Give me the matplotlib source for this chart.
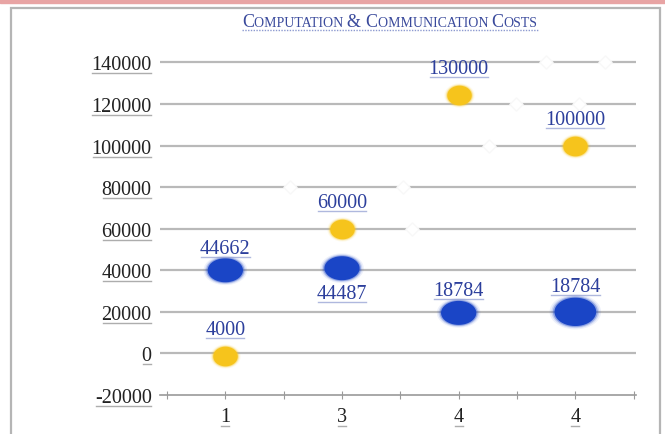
import numpy as np
import matplotlib
matplotlib.use("Agg")
import matplotlib.pyplot as plt
from matplotlib.path import Path
from matplotlib.lines import Line2D
from matplotlib.patches import Rectangle

plt.rcParams['font.family'] = ['Liberation Serif', 'DejaVu Serif']

# data
categories = ["1", "3", "4", "4"]
blue_y = [40000, 41000, 19500, 20000]
blue_labels = ["44662", "44487", "18784", "18784"]
blue_size = [680, 680, 680, 950]
yellow_y = [-1000, 60000, 124500, 100000]
yellow_labels = ["4000", "60000", "130000", "100000"]
ghost_x = [1.05, 2.02, 2.10, 2.76, 2.99, 3.53, 3.25, 3.75]
ghost_y = [80000, 80000, 60000, 100000, 120000, 120000, 140000, 140000]
yticks = list(range(-20000, 140001, 20000))

BLUE = "#1a45c6"
YELLOW = "#f6c41c"
TXT_BLUE = "#2c3f9c"

fig = plt.figure(figsize=(6.65, 4.35), dpi=100)
fig.patch.set_facecolor("white")

# photo frame
fig.patches.append(Rectangle((0, 1 - 4 / 435), 1, 4 / 435, transform=fig.transFigure,
                             color="#e8a4a4", zorder=0))
fig.patches.append(Rectangle((11 / 665, -0.05), 649 / 665, 1.05 - 9 / 435,
                             transform=fig.transFigure, fill=False,
                             edgecolor="#b5b5b5", lw=1.6, zorder=0))

ax = fig.add_axes([160 / 665, 39 / 435, 476 / 665, 343 / 435])
ax.set_facecolor("none")
xpos = np.arange(len(categories)) + 0.5
ax.set_xlim(-0.06, 4.02)
ax.set_ylim(-20000, 145000)

for y in yticks[1:]:
    ax.axhline(y, color="#b9b9b9", lw=1.6, zorder=1)

ax.scatter(ghost_x, ghost_y, s=45, marker="D", color="white", edgecolors="#f8f8f8",
           lw=1, zorder=2)

t = np.linspace(0, 2 * np.pi, 60)
ell = Path(np.column_stack([np.cos(t), 0.68 * np.sin(t)]))
ell_y = Path(np.column_stack([np.cos(t), 0.8 * np.sin(t)]))

# soft blobs
for scale, a in [(1.45, 0.08), (1.25, 0.16), (1.1, 0.35), (0.95, 1.0)]:
    ax.scatter(xpos, blue_y, s=[v * scale for v in blue_size], marker=ell, color=BLUE,
               alpha=a, lw=0, zorder=3)
    ax.scatter(xpos, yellow_y, s=330 * scale, marker=ell_y, color=YELLOW,
               alpha=a, lw=0, zorder=3)

texts = []
blue_off = [16, -18, 16, 18]
for x, y, lab, dy in zip(xpos, blue_y, blue_labels, blue_off):
    texts.append(ax.annotate(lab, (x, y), xytext=(0, dy), textcoords="offset points",
                             ha="center", va="center", fontsize=14.5, color=TXT_BLUE))
for x, y, lab in zip(xpos, yellow_y, yellow_labels):
    texts.append(ax.annotate(lab, (x, y), xytext=(0, 19), textcoords="offset points",
                             ha="center", va="center", fontsize=14.5, color=TXT_BLUE))

ax.set_yticks(yticks)
ax.set_yticklabels([str(v) for v in yticks])
ax.set_xticks(np.arange(0, 4.01, 0.5))
ax.set_xticklabels(["", categories[0], "", categories[1], "", categories[2], "",
                    categories[3], ""])
for s in ["left", "right", "top"]:
    ax.spines[s].set_visible(False)
ax.spines["bottom"].set_color("#9a9a9a")
ax.spines["bottom"].set_linewidth(1.2)
ax.tick_params(axis="y", length=0, pad=6, labelsize=14.5, labelcolor="#222222")
ax.tick_params(axis="x", direction="inout", length=6, color="#9a9a9a", pad=6,
               labelsize=14.5, labelcolor="#222222")

# small caps title
pieces = [("C", 13), ("OMPUTATION ", 10), ("& ", 13), ("C", 13),
          ("OMMUNICATION ", 10), ("C", 13), ("OSTS", 10)]
renderer = fig.canvas.get_renderer()
title_texts = []
widths = []
for txt, sz in pieces:
    tt = fig.text(0, 0, txt, fontsize=sz, color="#3a4a9c", ha="left", va="baseline",
                  transform=None)
    widths.append(tt.get_window_extent(renderer).width)
    title_texts.append(tt)
cx = 390 - sum(widths) / 2
base = 435 - 27
for tt, w in zip(title_texts, widths):
    tt.set_position((cx, base))
    cx += w
fig.add_artist(Line2D([390 - sum(widths) / 2, 390 + sum(widths) / 2], [base - 4, base - 4],
                      color="#8d9ad0", lw=1, ls=(0, (1, 1)), transform=None))

# faint link-style underlines
fig.canvas.draw()
for tt in texts + ax.get_yticklabels() + ax.get_xticklabels():
    if not tt.get_text():
        continue
    bb = tt.get_window_extent(renderer)
    col = "#8d9ad0" if tt in texts else "#8a8a8a"
    fig.add_artist(Line2D([bb.x0 + 1, bb.x1 - 1], [bb.y0 + 1, bb.y0 + 1], color=col,
                          lw=1, alpha=0.7, transform=None))

fig.savefig("out.png", dpi=100)
